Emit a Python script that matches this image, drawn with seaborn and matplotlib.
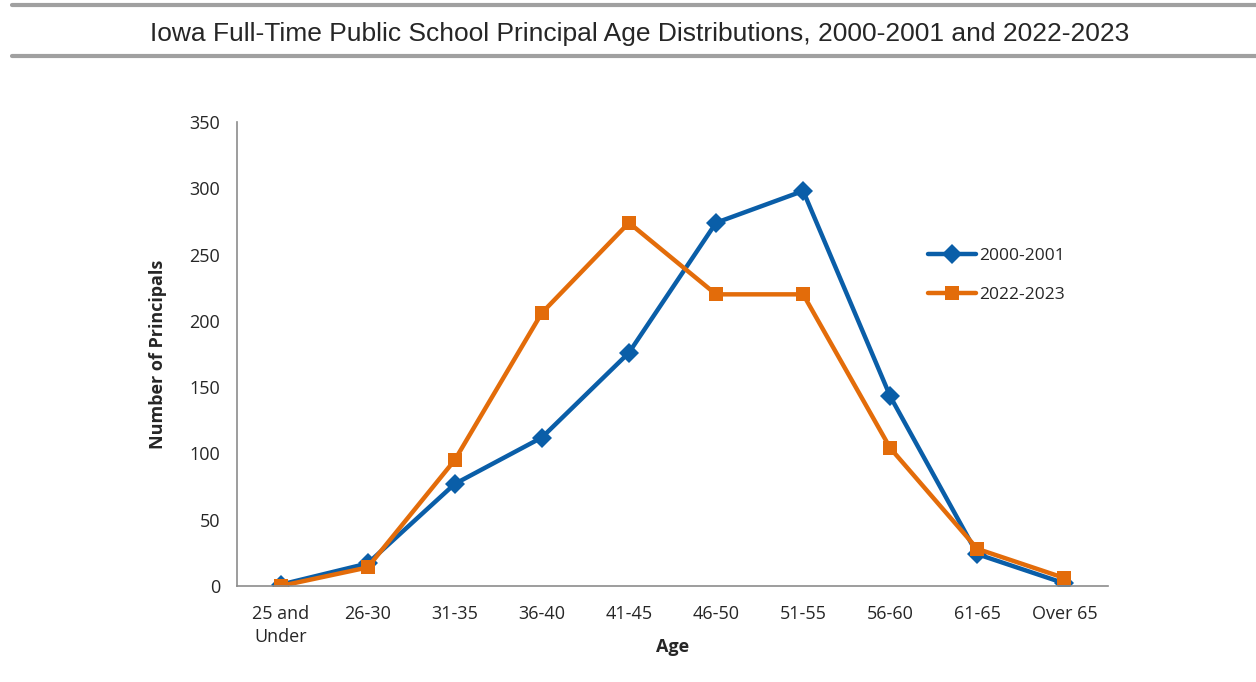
import pandas as pd
import matplotlib
matplotlib.use('Agg')
import matplotlib.pyplot as plt
import seaborn as sns

# Chart data
age_groups = ['25 and\nUnder', '26-30', '31-35', '36-40', '41-45',
              '46-50', '51-55', '56-60', '61-65', 'Over 65']
principals_2000 = [1, 17, 77, 112, 176, 274, 298, 143, 24, 2]
principals_2022 = [0, 14, 95, 206, 274, 220, 220, 104, 28, 6]
series_names = ['2000-2001', '2022-2023']

df = pd.DataFrame({
    'pos': list(range(len(age_groups))) * 2,
    'count': principals_2000 + principals_2022,
    'year': [series_names[0]] * len(age_groups) + [series_names[1]] * len(age_groups),
})

sns.set_style('white')
plt.rcParams['font.family'] = ['Open Sans', 'DejaVu Sans']

fig = plt.figure(figsize=(12.56, 6.82), dpi=100)
ax = fig.add_axes([237 / 1256, 1 - 586 / 682, (1108 - 237) / 1256, (586 - 122) / 682])

palette = {'2000-2001': '#0A5EA8', '2022-2023': '#E36C0A'}
markers = {'2000-2001': 'D', '2022-2023': 's'}
sns.lineplot(data=df, x='pos', y='count', hue='year', style='year',
             palette=palette, markers=markers, dashes=False,
             linewidth=3.2, markersize=10, markeredgewidth=0, ax=ax)

ax.set_xlim(-0.5, len(age_groups) - 0.5)
ax.set_ylim(0, 350)
ax.set_yticks(range(0, 351, 50))
ax.set_xticks(range(len(age_groups)))
ax.set_xticklabels(age_groups, fontsize=13, linespacing=1.35)
ax.set_xticks([i - 0.5 for i in range(len(age_groups) + 1)], minor=True)
ax.tick_params(axis='x', which='major', length=0, pad=14)
ax.tick_params(axis='x', which='minor', length=4, width=1, color='#8c8c8c', direction='out')
ax.tick_params(axis='y', length=4, width=1, color='#8c8c8c', direction='out', labelsize=13, pad=8)

for side in ['top', 'right']:
    ax.spines[side].set_visible(False)
for side in ['left', 'bottom']:
    ax.spines[side].set_color('#8c8c8c')
    ax.spines[side].set_linewidth(1.2)

ax.set_xlabel('Age', fontsize=13, fontweight='bold')
ax.xaxis.set_label_coords(0.5, -0.112)
ax.set_ylabel('Number of Principals', fontsize=13, fontweight='bold', labelpad=16)

handles, labels = ax.get_legend_handles_labels()
leg = ax.legend(handles, labels, loc='upper left', bbox_to_anchor=(912 / 1256, 1 - 232 / 682),
                bbox_transform=fig.transFigure, frameon=False, fontsize=12.5,
                handlelength=2.8, handletextpad=0.15, labelspacing=1.35)
for line in leg.get_lines():
    line.set_linewidth(3.2)

# Title band with rules above and below
fig.add_artist(plt.Line2D([12 / 1256, 1], [1 - 5 / 682] * 2, color='#a0a0a0', linewidth=3,
                          transform=fig.transFigure))
fig.add_artist(plt.Line2D([12 / 1256, 1], [1 - 56 / 682] * 2, color='#a0a0a0', linewidth=3,
                          transform=fig.transFigure))
fig.text(640 / 1256, 1 - 34 / 682,
         'Iowa Full-Time Public School Principal Age Distributions, 2000-2001 and 2022-2023',
         ha='center', va='center', fontsize=19, family='Liberation Sans')

fig.savefig('out.png', dpi=100)
